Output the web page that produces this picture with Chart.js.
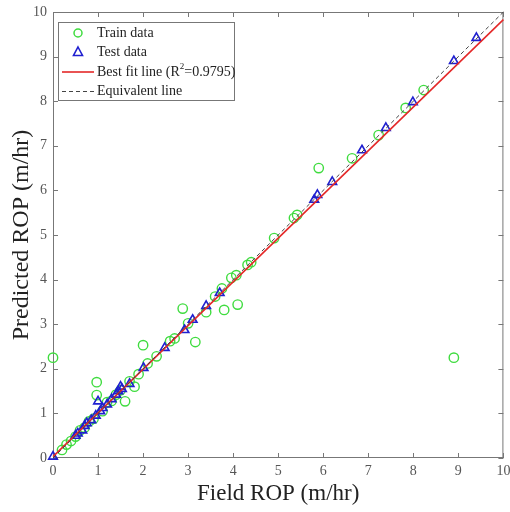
<!DOCTYPE html>
<html><head><meta charset="utf-8">
<script src="https://cdn.jsdelivr.net/npm/chart.js@4"></script>
<style>html,body{margin:0;padding:0;background:#fff}#wrap{width:510px;height:512px;position:relative}</style>
</head><body><div id="wrap"><canvas id="c" width="510" height="512"></canvas></div>
<script>
const trainX = [0, 8.9, 0.97, 0.97, 1.6, 1.81, 2.0, 2.88, 3.16, 3.8, 4.1, 5.9,
  0.2, 0.3, 0.4, 0.5, 0.6, 0.7, 0.8, 0.9, 1.1, 1.2, 1.3, 1.4, 1.5, 1.7, 1.9, 2.1, 2.3, 2.6, 2.7, 3.0, 3.4, 3.6, 3.75, 3.96, 4.07, 4.32, 4.4, 4.91, 5.35, 5.42, 6.64, 7.23, 7.83, 8.23];
const trainY = [2.25, 2.25, 1.70, 1.41, 1.27, 1.6, 2.53, 3.35, 2.6, 3.32, 3.44, 6.5,
  0.18, 0.3, 0.38, 0.48, 0.62, 0.68, 0.82, 0.88, 1.05, 1.25, 1.28, 1.42, 1.52, 1.72, 1.88, 2.12, 2.28, 2.62, 2.68, 3.02, 3.27, 3.62, 3.8, 4.04, 4.1, 4.33, 4.39, 4.93, 5.38, 5.45, 6.72, 7.24, 7.85, 8.25];
const testX = [0.0, 0.5, 0.55, 0.65, 0.7, 0.75, 0.85, 0.95, 1.0, 1.05, 1.1, 1.2, 1.3, 1.4, 1.45, 1.5, 1.53, 1.7, 2.01, 2.48, 2.92, 3.1, 3.4, 3.7, 5.8, 5.87, 6.2, 6.86, 7.39, 7.99, 8.9, 9.4];
const testY = [0.03, 0.5, 0.55, 0.62, 0.72, 0.78, 0.85, 0.95, 1.27, 1.05, 1.12, 1.2, 1.32, 1.42, 1.5, 1.6, 1.55, 1.66, 2.02, 2.47, 2.87, 3.1, 3.41, 3.7, 5.79, 5.9, 6.19, 6.9, 7.4, 7.98, 8.9, 9.42];
const fitX = [0, 10];
const fitY = [0.03, 9.83];
const eqX = [0, 10];
const eqY = [0, 10];
const tickValues = [0, 1, 2, 3, 4, 5, 6, 7, 8, 9, 10];
const legendLabels = ['Train data', 'Test data', 'Best fit line (R', 'Equivalent line'];
const r2Text = '=0.9795)';
const xTitle = 'Field ROP (m/hr)';
const yTitle = 'Predicted ROP (m/hr)';

const pts = (xs, ys) => xs.map((x, i) => ({x, y: ys[i]}));
const SERIF = '"Liberation Serif", "Times New Roman", serif';
const GREEN = '#3fdc3f', BLUE = '#1f1fd0', RED = '#e42828', DASH = '#444';
const zeroPad = () => ({left: 0, right: 0, top: 0, bottom: 0});

const boxPlugin = {
  id: 'box',
  beforeDatasetsDraw(chart) {
    const {ctx, chartArea: a, scales} = chart;
    ctx.save();
    ctx.strokeStyle = '#777';
    ctx.lineWidth = 1;
    ctx.strokeRect(a.left + 0.5, a.top + 0.5, a.right - a.left - 1, a.bottom - a.top - 1);
    ctx.beginPath();
    tickValues.forEach(v => {
      const x = Math.round(scales.x.getPixelForValue(v)) + 0.5;
      ctx.moveTo(x, a.bottom); ctx.lineTo(x, a.bottom - 5);
      ctx.moveTo(x, a.top); ctx.lineTo(x, a.top + 5);
      const y = Math.round(scales.y.getPixelForValue(v)) + 0.5;
      ctx.moveTo(a.left, y); ctx.lineTo(a.left + 5, y);
      ctx.moveTo(a.right, y); ctx.lineTo(a.right - 5, y);
    });
    ctx.stroke();
    ctx.restore();
  },
  afterDraw(chart) {
    const {ctx} = chart;
    ctx.save();
    const L = 58, T = 22, W = 176, H = 78;
    ctx.fillStyle = '#fff';
    ctx.fillRect(L, T, W, H);
    ctx.strokeStyle = '#777';
    ctx.lineWidth = 1;
    ctx.strokeRect(L + 0.5, T + 0.5, W, H);
    const rows = [33, 52, 72, 91];
    const mx = 78, tx = 97;
    ctx.strokeStyle = GREEN; ctx.lineWidth = 1.5;
    ctx.beginPath(); ctx.arc(mx, rows[0], 4, 0, Math.PI * 2); ctx.stroke();
    ctx.strokeStyle = BLUE; ctx.lineWidth = 1.6;
    ctx.beginPath();
    ctx.moveTo(mx, rows[1] - 5); ctx.lineTo(mx + 4.5, rows[1] + 3.5); ctx.lineTo(mx - 4.5, rows[1] + 3.5); ctx.closePath(); ctx.stroke();
    ctx.strokeStyle = RED; ctx.lineWidth = 1.6;
    ctx.beginPath(); ctx.moveTo(62, rows[2]); ctx.lineTo(94, rows[2]); ctx.stroke();
    ctx.strokeStyle = DASH; ctx.lineWidth = 1; ctx.setLineDash([4, 3]);
    ctx.beginPath(); ctx.moveTo(62, rows[3] + 0.5); ctx.lineTo(94, rows[3] + 0.5); ctx.stroke();
    ctx.setLineDash([]);
    ctx.fillStyle = '#222';
    ctx.textBaseline = 'middle';
    ctx.font = '14px ' + SERIF;
    ctx.fillText(legendLabels[0], tx, rows[0]);
    ctx.fillText(legendLabels[1], tx, rows[1]);
    ctx.fillText(legendLabels[2], tx, rows[2]);
    let w = ctx.measureText(legendLabels[2]).width;
    ctx.font = '9px ' + SERIF;
    ctx.fillText('2', tx + w, rows[2] - 5);
    let w2 = ctx.measureText('2').width;
    ctx.font = '14px ' + SERIF;
    ctx.fillText(r2Text, tx + w + w2, rows[2]);
    ctx.fillText(legendLabels[3], tx, rows[3]);
    ctx.restore();
  }
};

const tickFont = {family: SERIF, size: 14};
new Chart(document.getElementById('c'), {
  type: 'scatter',
  data: {
    datasets: [
      {type: 'line', data: pts(eqX, eqY), borderColor: DASH, borderWidth: 1, borderDash: [4, 3], pointRadius: 0, fill: false, clip: false},
      {type: 'line', data: pts(fitX, fitY), borderColor: RED, borderWidth: 1.6, pointRadius: 0, fill: false, clip: false},
      {data: pts(testX, testY), pointStyle: 'triangle', radius: 5, borderColor: BLUE, backgroundColor: 'rgba(0,0,0,0)', borderWidth: 1.6, clip: false},
      {data: pts(trainX, trainY), pointStyle: 'circle', radius: 4.7, borderColor: GREEN, backgroundColor: 'rgba(0,0,0,0)', borderWidth: 1.4, clip: false}
    ]
  },
  options: {
    responsive: false, animation: false, devicePixelRatio: 1,
    layout: {padding: {left: 0, right: 4, top: 12, bottom: 0}},
    plugins: {legend: {display: false}, tooltip: {enabled: false}},
    scales: {
      x: {
        type: 'linear', min: 0, max: 10,
        afterBuildTicks: s => { s.ticks = tickValues.map(v => ({value: v})); },
        afterFit: s => { s.height = 54; s.paddingLeft = 0; s.paddingRight = 0; s.getPadding = zeroPad; },
        grid: {display: false, drawTicks: false},
        border: {display: false},
        ticks: {font: tickFont, color: '#555', padding: 5, maxRotation: 0, autoSkip: false},
        title: {display: true, text: xTitle, font: {family: SERIF, size: 23}, color: '#222', padding: {top: 0, bottom: 4}}
      },
      y: {
        type: 'linear', min: 0, max: 10,
        afterBuildTicks: s => { s.ticks = tickValues.map(v => ({value: v})); },
        afterFit: s => { s.width = 53; s.paddingTop = 0; s.paddingBottom = 0; s.getPadding = zeroPad; },
        grid: {display: false, drawTicks: false},
        border: {display: false},
        ticks: {font: tickFont, color: '#555', padding: 6, autoSkip: false},
        title: {display: true, text: yTitle, font: {family: SERIF, size: 24}, color: '#222', padding: {top: 7, bottom: 0}}
      }
    }
  },
  plugins: [boxPlugin]
});
</script></body></html>
